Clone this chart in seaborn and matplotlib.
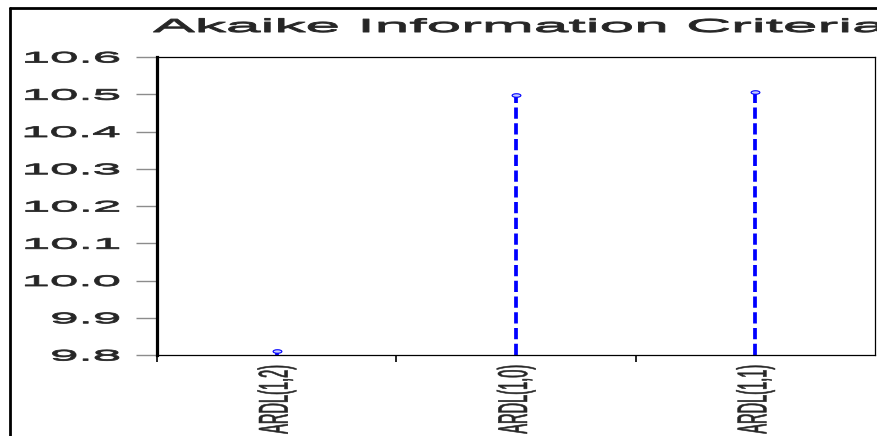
import matplotlib
matplotlib.use("Agg")
import matplotlib.pyplot as plt
from matplotlib import patheffects
from matplotlib.transforms import Affine2D
from matplotlib.path import Path
from matplotlib.lines import Line2D
import seaborn as sns

# data
models = ["ARDL(1,2)", "ARDL(1,0)", "ARDL(1,1)"]
aic = [9.811, 10.497, 10.506]
yticks = [9.8, 9.9, 10.0, 10.1, 10.2, 10.3, 10.4, 10.5, 10.6]
ytick_labels = ["9.8", "9.9", "10.0", "10.1", "10.2", "10.3", "10.4", "10.5", "10.6"]
title = "Akaike Information Criteria"


# horizontal stretch of text glyphs (EViews-like wide / narrow fonts),
# with an optional thin outline to thicken the strokes a bit
class Stretch(patheffects.AbstractPathEffect):
    def __init__(self, sx, anchor="left", lw=0):
        super().__init__()
        self.sx = sx
        self.anchor = anchor
        self.lw = lw

    def draw_path(self, renderer, gc, tpath, affine, rgbFace=None):
        ext = tpath.get_extents()
        if self.anchor == "right":
            x0 = ext.x1
        elif self.anchor == "center":
            x0 = (ext.x0 + ext.x1) / 2
        else:
            x0 = ext.x0
        t = Affine2D().translate(-x0, 0).scale(self.sx, 1).translate(x0, 0) + affine
        if self.lw:
            gc0 = renderer.new_gc()
            gc0.copy_properties(gc)
            gc0.set_linewidth(self.lw)
            gc0.set_foreground(rgbFace)
            renderer.draw_path(gc0, tpath, t, rgbFace)
            gc0.restore()
        else:
            renderer.draw_path(gc, tpath, t, rgbFace)


sns.set_style("white")
plt.rcParams["font.family"] = ["Liberation Sans", "DejaVu Sans"]

fig = plt.figure(figsize=(8.77, 4.36), dpi=100)
ax = fig.add_axes([157 / 877, 1 - 355 / 436, (875 - 157) / 877, (355 - 57) / 436])

# flat little marker on top of each stem
flat = Path.unit_circle().transformed(Affine2D().scale(1, 0.4))
sns.scatterplot(x=models, y=aic, marker=flat, s=40, color="#c8ceff",
                edgecolor="#0000ff", linewidth=0.8, zorder=3, ax=ax, legend=False)
ax.vlines(models, 9.8, aic, colors="#0000ff", linestyles=(0, (3.0, 1.2)),
          linewidth=2.7, zorder=2)

ax.set_xlim(-0.5, 2.5)
ax.set_ylim(9.8, 10.6)

# axes frame
for s in ["top", "right", "bottom"]:
    ax.spines[s].set_color("black")
    ax.spines[s].set_linewidth(0.9)
ax.spines["left"].set_color("black")
ax.spines["left"].set_linewidth(2.3)

# y axis
ax.set_yticks(yticks)
ax.set_yticklabels(ytick_labels)
ax.tick_params(axis="y", which="major", left=True, length=15, width=1,
               color="#8c8c8c", pad=12, labelsize=11)
for lbl in ax.get_yticklabels():
    lbl.set_path_effects([Stretch(3.35, "right", lw=0.6)])

# x axis
ax.set_xticks(range(len(models)))
ax.set_xticklabels(models, rotation=90, va="top", ha="center")
ax.tick_params(axis="x", which="major", bottom=True, length=0, pad=6, labelsize=30)
ax.set_xticks([-0.5, 0.5, 1.5], minor=True)
ax.tick_params(axis="x", which="minor", bottom=True, length=5, width=1.2,
               color="black", direction="out")
for lbl in ax.get_xticklabels():
    lbl.set_path_effects([Stretch(0.35, "right", lw=0.4)])

ax.set_xlabel("")
ax.set_ylabel("")

# title, centred over the plot area (runs off the right edge as in the original)
fig.text(520 / 877, 1 - 32 / 436, title, ha="center", va="baseline",
         fontsize=13.5, path_effects=[Stretch(3.32, "center", lw=0.7)])

# outer frame lines (left and top)
fig.add_artist(Line2D([10 / 877, 10 / 877], [0, 1 - 8 / 436],
                      transform=fig.transFigure, color="black", linewidth=2))
fig.add_artist(Line2D([10 / 877, 1], [1 - 8 / 436, 1 - 8 / 436],
                      transform=fig.transFigure, color="black", linewidth=2))

fig.savefig("out.png", dpi=100)
